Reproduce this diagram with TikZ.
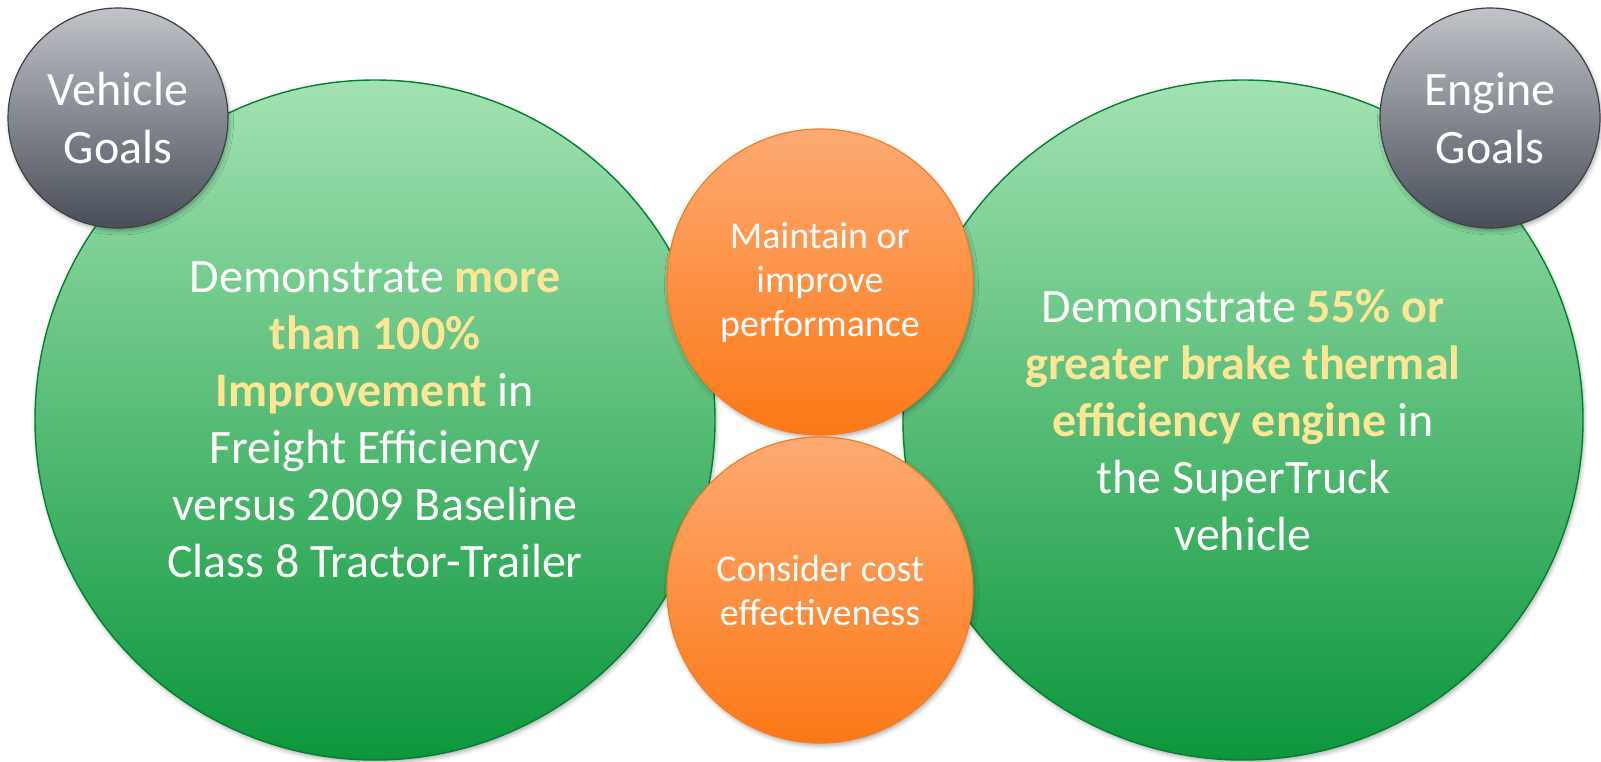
\documentclass[tikz,border=0pt]{standalone}
\usepackage{fontspec}
\setmainfont{Carlito}
\usepackage{xcolor}
\usetikzlibrary{positioning,shadows.blur}

\definecolor{greenTop}{RGB}{162,226,178}
\definecolor{greenMid}{RGB}{112,192,132}
\definecolor{greenBot}{RGB}{12,150,60}
\definecolor{greenLine}{RGB}{0,128,48}
\definecolor{orangeTop}{RGB}{253,170,115}
\definecolor{orangeBot}{RGB}{252,120,22}
\definecolor{orangeLine}{RGB}{244,124,36}
\definecolor{grayTop}{RGB}{192,195,200}
\definecolor{grayBot}{RGB}{72,78,88}
\definecolor{grayLine}{RGB}{62,64,70}
\definecolor{keyfig}{RGB}{255,230,150}

\newcommand{\goalhl}[1]{\textcolor{keyfig}{\bfseries #1}}

\begin{document}
\begin{tikzpicture}[
    x=1pt, y=-1pt,
    soft/.style={
        blur shadow={shadow xshift=1.5pt, shadow yshift=-3pt,
                     shadow blur radius=4pt, shadow opacity=30}
    },
    goal/.style={
        circle, soft, draw=greenLine, line width=1.4pt,
        top color=greenTop, middle color=greenMid, bottom color=greenBot,
        minimum size=680pt, inner sep=0pt, align=center, text=white,
        font={\fontsize{48}{57}\selectfont}
    },
    limit/.style={
        circle, soft, draw=orangeLine, line width=1.2pt,
        top color=orangeTop, bottom color=orangeBot,
        minimum size=306pt, inner sep=0pt, align=center, text=white,
        font={\fontsize{38}{44}\selectfont}
    },
    tag/.style={
        circle, soft, draw=grayLine, line width=1.2pt,
        top color=grayTop, bottom color=grayBot,
        minimum size=220pt, inner sep=0pt, align=center, text=white,
        font={\fontsize{48}{58}\selectfont}
    }
]
\useasboundingbox (0,0) rectangle (1601,761);

% goals
\node[goal] (vgoal) at (375, 420) {Demonstrate \goalhl{more}\\
    \goalhl{than 100\%}\\
    \goalhl{Improvement} in\\
    Freight Efficiency\\
    versus 2009 Baseline\\
    Class 8 Tractor-Trailer};
\node[goal] (egoal) at (1243, 420) {Demonstrate \goalhl{55\% or}\\
    \goalhl{greater brake thermal}\\
    \goalhl{efficiency engine} in\\
    the SuperTruck\\
    vehicle};

% constraints in between
\node[limit] (perf) at (820, 282) {Maintain or\\ improve\\ performance};
\node[limit] (cost) at (820, 590) {Consider cost\\ effectiveness};

% labels
\node[tag] (vtag) at (118, 118) {Vehicle\\ Goals};
\node[tag] (etag) at (1490, 118) {Engine\\ Goals};

\end{tikzpicture}
\end{document}
